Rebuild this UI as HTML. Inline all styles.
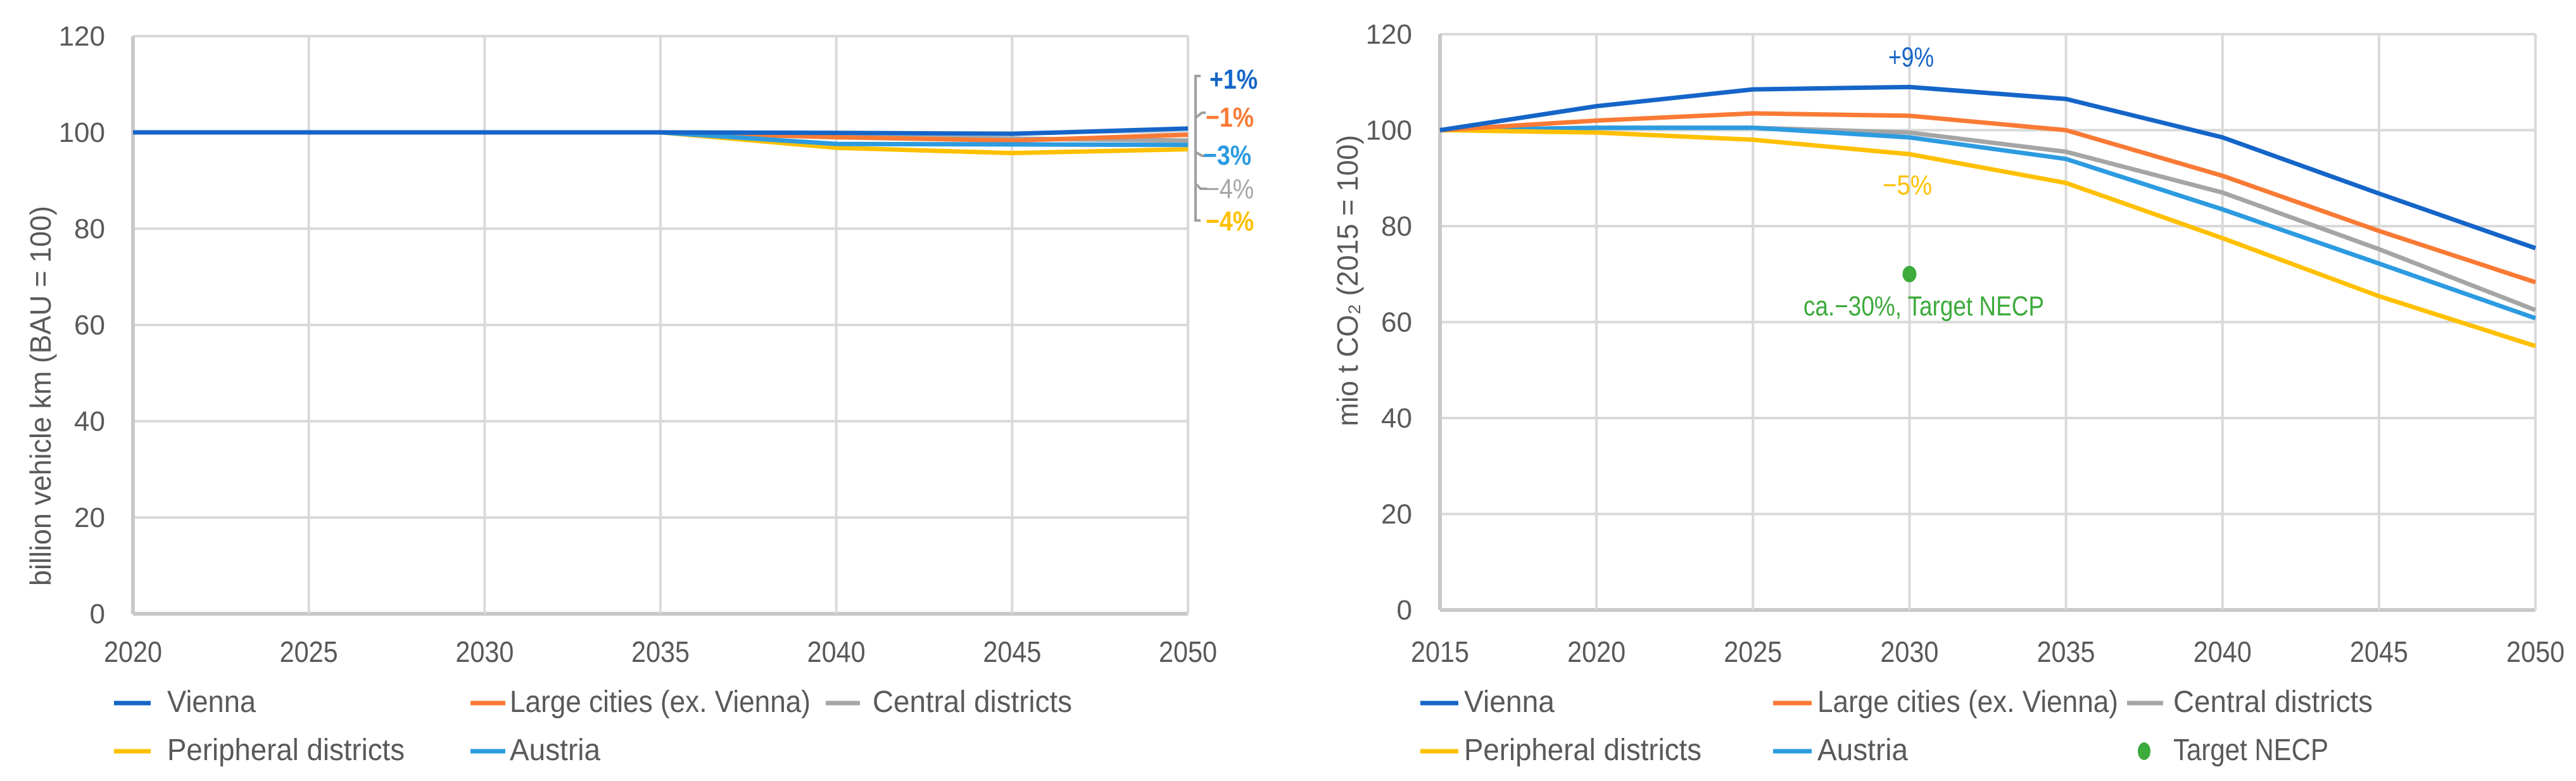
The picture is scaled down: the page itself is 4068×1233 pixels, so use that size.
<!DOCTYPE html>
<html><head><meta charset="utf-8"><style>
html,body{margin:0;padding:0;background:#fff;}
svg{display:block;font-family:"Liberation Sans",sans-serif;}
</style></head><body>
<svg id="svg" width="4068" height="1233" viewBox="0 0 4068 1233" xmlns="http://www.w3.org/2000/svg">
<g id="left"></g>
<g id="right"></g>
</svg>
<script>
const NS='http://www.w3.org/2000/svg';
// ---- Left chart data ----
const leftYears=[2020,2025,2030,2035,2040,2045,2050];
const leftVienna=[100,100,100,100,99.9,99.7,100.8];
const leftLarge=[100,100,100,100,99.0,98.3,99.5];
const leftCentral=[100,100,100,100,99.0,98.7,98.3];
const leftPeripheral=[100,100,100,100,96.8,95.7,96.5];
const leftAustria=[100,100,100,100,97.6,97.5,97.4];
// ---- Right chart data ----
const rightYears=[2015,2020,2025,2030,2035,2040,2045,2050];
const rightVienna=[100,105,108.5,109,106.5,98.5,86.8,75.4];
const rightLarge=[100,102,103.5,103,100,90.5,79,68.3];
const rightCentral=[100,100.5,100.5,99.5,95.5,87,75.2,62.5];
const rightPeripheral=[100,99.5,98,95,89,77.5,65.4,55];
const rightAustria=[100,100.5,100.5,98.5,94,83.5,72.2,60.8];
const targetYear=[2030];
const targetValue=[70];
const yTicks=[0,20,40,60,80,100,120];

const COL={vienna:'#1565c8',large:'#f97a35',central:'#a5a5a5',peripheral:'#ffc000',austria:'#2c9be0',target:'#3daa3c',grid:'#d9d9d9',text:'#595959'};

function el(parent,tag,attrs,text){const e=document.createElementNS(NS,tag);for(const k in attrs)e.setAttribute(k,attrs[k]);if(text!==undefined)e.textContent=text;parent.appendChild(e);return e;}

function buildChart(g,cfg){
  const xs=v=>cfg.x0+(v-cfg.years[0])/(cfg.years[cfg.years.length-1]-cfg.years[0])*(cfg.x1-cfg.x0);
  const ys=v=>cfg.y0-(v/120)*(cfg.y0-cfg.y1);
  yTicks.forEach(t=>{
    const l=el(g,'line',{x1:cfg.x0,x2:cfg.x1,y1:ys(t),y2:ys(t),stroke:t===0?'#c8c8c8':COL.grid,'stroke-width':t===0?6:4});
    
    
    const tx=el(g,'text',{x:cfg.x0-44,y:ys(t)+15,'text-anchor':'end','font-size':44,fill:COL.text},String(t));
    
    
  });
  cfg.years.forEach(yr=>{
    const l=el(g,'line',{x1:xs(yr),x2:xs(yr),y1:cfg.y1,y2:cfg.y0,stroke:(yr===cfg.years[0])?'#c8c8c8':COL.grid,'stroke-width':(yr===cfg.years[0])?6:4});
    
    
    const tx=el(g,'text',{x:xs(yr),y:1045,'text-anchor':'middle','font-size':46,fill:COL.text,textLength:92,lengthAdjust:'spacingAndGlyphs'},String(yr));
    
    
  });
  const yt=el(g,'text',{x:0,y:0,'text-anchor':'middle','font-size':46,fill:COL.text,transform:`translate(${cfg.titleX},${cfg.titleY}) rotate(-90)`,textLength:cfg.titleLen,lengthAdjust:'spacingAndGlyphs'},cfg.title);
  
  
  cfg.series.forEach(s=>{
    const pts=cfg.years.map((yr,i)=>xs(yr)+','+ys(s.vals[i])).join(' ');
    const p=el(g,'polyline',{points:pts,fill:'none',stroke:s.color,'stroke-width':7,'stroke-linejoin':'round'});
    
    
  });
  return {xs,ys};
}

function legend(g,items){
  items.forEach(it=>{
    let m;
    if(it.dot){m=el(g,'ellipse',{cx:it.lx+14,cy:it.y-14,rx:10,ry:14,fill:it.color});}
    else{m=el(g,'line',{x1:it.lx,x2:it.lx2,y1:it.y-14,y2:it.y-14,stroke:it.color,'stroke-width':7});}
    
    
    const t=el(g,'text',{x:it.tx,y:it.y,'font-size':48,fill:COL.text,textLength:it.w,lengthAdjust:'spacingAndGlyphs'},it.label);
    
    
  });
}

const L=document.getElementById('left');
const lc=buildChart(L,{x0:210,x1:1876,y0:969,y1:57,years:leftYears,title:'billion vehicle km  (BAU = 100)',titleX:80,titleY:625,titleLen:600,
 series:[{key:'central',vals:leftCentral,color:COL.central},{key:'large',vals:leftLarge,color:COL.large},{key:'peripheral',vals:leftPeripheral,color:COL.peripheral},{key:'austria',vals:leftAustria,color:COL.austria},{key:'vienna',vals:leftVienna,color:COL.vienna}]});
const br=el(L,'path',{d:'M1896,120 L1888,120 L1888,348 L1896,348 M1888,186 L1898,178 L1904,178 M1888,240 L1898,246 L1906,246 M1888,290 L1896,298 L1906,298',fill:'none',stroke:'#a0a0a0','stroke-width':4});


[['+1%',1910,140,COL.vienna,'label-vienna-change'],['\u22121%',1904,200,COL.large,'label-large-change'],['\u22123%',1900,260,COL.austria,'label-austria-change'],['\u22124%',1904,313,COL.central,'label-central-change'],['\u22124%',1904,364,COL.peripheral,'label-peripheral-change']].forEach(a=>{
  const t=el(L,'text',{x:a[1],y:a[2],'font-size':44,fill:a[3],'font-weight':a[3]===COL.central?'normal':'bold',textLength:76,lengthAdjust:'spacingAndGlyphs'},a[0]);
  
  
});
legend(L,[
 {key:'vienna',label:'Vienna',color:COL.vienna,lx:180,lx2:238,tx:264,y:1124,w:140},
 {key:'large',label:'Large cities (ex. Vienna)',color:COL.large,lx:743,lx2:798,tx:805,y:1124,w:475},
 {key:'central',label:'Central districts',color:COL.central,lx:1304,lx2:1358,tx:1378,y:1124,w:315},
 {key:'peripheral',label:'Peripheral districts',color:COL.peripheral,lx:180,lx2:238,tx:264,y:1200,w:375},
 {key:'austria',label:'Austria',color:COL.austria,lx:743,lx2:798,tx:805,y:1200,w:143}
]);

const R=document.getElementById('right');
const rc=buildChart(R,{x0:2274,x1:4004,y0:963,y1:54,years:rightYears,title:'mio t CO\u2082  (2015 = 100)',titleX:2144,titleY:443,titleLen:460,
 series:[{key:'central',vals:rightCentral,color:COL.central},{key:'austria',vals:rightAustria,color:COL.austria},{key:'peripheral',vals:rightPeripheral,color:COL.peripheral},{key:'large',vals:rightLarge,color:COL.large},{key:'vienna',vals:rightVienna,color:COL.vienna}]});
targetYear.forEach((yr,i)=>{
  const d=el(R,'ellipse',{cx:rc.xs(yr),cy:rc.ys(targetValue[i]),rx:11,ry:13,fill:COL.target});
  
  
});
[['+9%',3018,105,COL.vienna,'label-vienna-peak',72],['\u22125%',3012,307,COL.peripheral,'label-peripheral-change',78],['ca.\u221230%, Target NECP',3038,498,COL.target,'label-target-necp',380]].forEach(a=>{
  const t=el(R,'text',{x:a[1],y:a[2],'text-anchor':'middle','font-size':44,fill:a[3],textLength:a[5],lengthAdjust:'spacingAndGlyphs'},a[0]);
  
  
});
legend(R,[
 {key:'vienna',label:'Vienna',color:COL.vienna,lx:2243,lx2:2303,tx:2312,y:1124,w:143},
 {key:'large',label:'Large cities (ex. Vienna)',color:COL.large,lx:2800,lx2:2861,tx:2870,y:1124,w:475},
 {key:'central',label:'Central districts',color:COL.central,lx:3359,lx2:3416,tx:3432,y:1124,w:315},
 {key:'peripheral',label:'Peripheral districts',color:COL.peripheral,lx:2243,lx2:2303,tx:2312,y:1200,w:375},
 {key:'austria',label:'Austria',color:COL.austria,lx:2800,lx2:2861,tx:2870,y:1200,w:143},
 {key:'target',label:'Target NECP',color:COL.target,dot:true,lx:3372,tx:3432,y:1200,w:245}
]);
</script>
</body></html>
